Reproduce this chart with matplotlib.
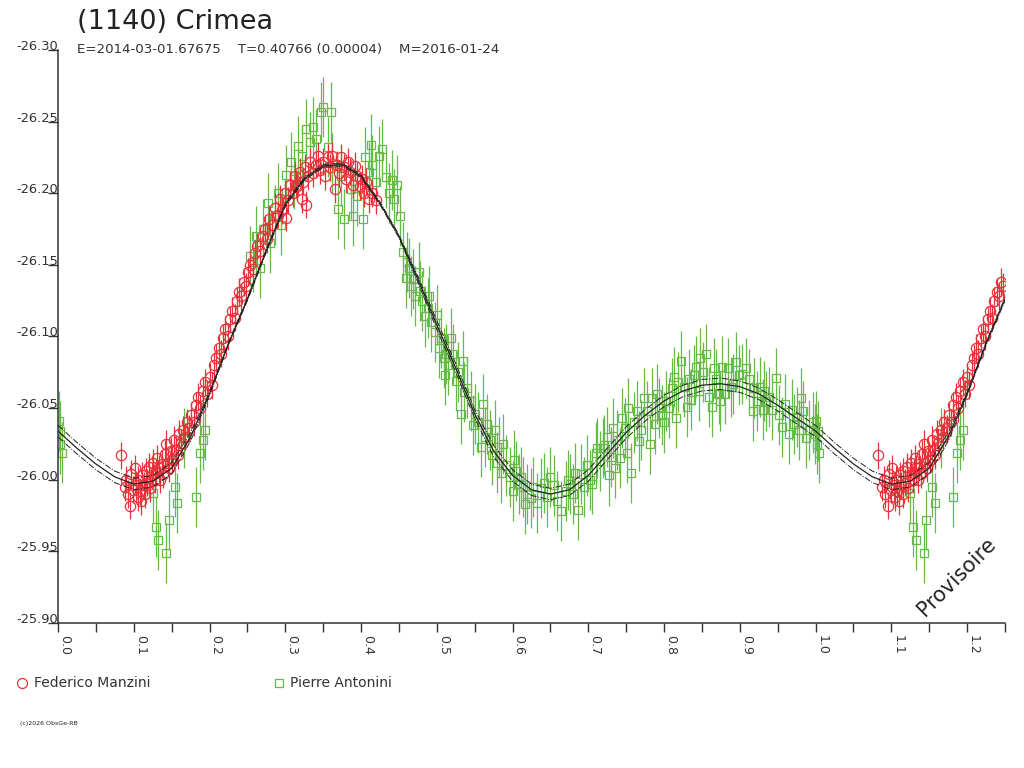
import numpy as np
import matplotlib
matplotlib.use("Agg")
import matplotlib.pyplot as plt
from matplotlib.lines import Line2D

# ___ fitted light curve, phase 0 -> 1
fit_phase = [0.000, 0.025, 0.050, 0.075, 0.100, 0.125, 0.150, 0.175, 0.200, 0.225,
             0.250, 0.275, 0.300, 0.325, 0.350, 0.375, 0.400, 0.425, 0.450, 0.475,
             0.500, 0.525, 0.550, 0.575, 0.600, 0.625, 0.650, 0.675, 0.700, 0.725,
             0.750, 0.775, 0.800, 0.825, 0.850, 0.875, 0.900, 0.925, 0.950, 0.975,
             1.000]
fit_mag = [-26.034, -26.022, -26.011, -26.002, -25.997, -25.999, -26.008, -26.030, -26.060, -26.095,
           -26.126, -26.160, -26.192, -26.210, -26.219, -26.220, -26.212, -26.193, -26.170, -26.140,
           -26.108, -26.078, -26.046, -26.020, -26.003, -25.993, -25.990, -25.993, -26.003, -26.018,
           -26.033, -26.045, -26.055, -26.062, -26.066, -26.067, -26.065, -26.060, -26.052, -26.043,
           -26.034]
# half width of the dash-dot envelope
fit_spread = [0.004, 0.004, 0.004, 0.004, 0.004, 0.004, 0.004, 0.003, 0.001, 0.001,
              0.001, 0.001, 0.001, 0.001, 0.001, 0.001, 0.001, 0.001, 0.001, 0.002,
              0.003, 0.003, 0.003, 0.004, 0.004, 0.004, 0.004, 0.004, 0.004, 0.004,
              0.004, 0.004, 0.004, 0.004, 0.004, 0.004, 0.004, 0.004, 0.004, 0.004,
              0.004]

# ___ Federico Manzini
manzini_phase = [0.083, 0.088, 0.090, 0.092, 0.095, 0.097, 0.099, 0.101, 0.103, 0.105,
                 0.106, 0.108, 0.110, 0.111, 0.113, 0.115, 0.116, 0.118, 0.120, 0.122,
                 0.124, 0.126, 0.128, 0.130, 0.131, 0.133, 0.135, 0.137, 0.139, 0.141,
                 0.143, 0.145, 0.147, 0.149, 0.151, 0.153, 0.156, 0.158, 0.160, 0.162,
                 0.165, 0.168, 0.170, 0.173, 0.176, 0.179, 0.182, 0.185, 0.188, 0.191,
                 0.194, 0.197, 0.200, 0.203, 0.206, 0.209, 0.212, 0.215, 0.218, 0.221,
                 0.224, 0.227, 0.230, 0.233, 0.236, 0.239, 0.242, 0.245, 0.248, 0.251,
                 0.254, 0.257, 0.260, 0.263, 0.266, 0.270, 0.273, 0.276, 0.279, 0.283,
                 0.286, 0.290, 0.293, 0.296, 0.300, 0.301, 0.303, 0.306, 0.310, 0.313,
                 0.314, 0.316, 0.320, 0.322, 0.323, 0.326, 0.328, 0.330, 0.333, 0.336,
                 0.340, 0.343, 0.346, 0.350, 0.353, 0.356, 0.359, 0.362, 0.365, 0.368,
                 0.371, 0.374, 0.377, 0.380, 0.383, 0.386, 0.389, 0.392, 0.395, 0.398,
                 0.401, 0.404, 0.407, 0.410, 0.415, 0.420]
manzini_mag = [-26.017, -25.995, -26.000, -25.990, -25.982, -26.004, -25.993, -26.008, -25.996, -25.988,
               -26.000, -25.992, -25.985, -26.003, -25.996, -25.990, -26.006, -25.998, -26.009, -25.994,
               -26.003, -26.012, -26.000, -26.005, -26.015, -26.008, -26.000, -26.011, -26.004, -26.018,
               -26.025, -26.012, -26.008, -26.020, -26.014, -26.028, -26.021, -26.017, -26.032, -26.026,
               -26.035, -26.030, -26.040, -26.036, -26.045, -26.040, -26.052, -26.058, -26.050, -26.062,
               -26.068, -26.060, -26.072, -26.066, -26.080, -26.085, -26.092, -26.088, -26.099, -26.105,
               -26.100, -26.112, -26.118, -26.113, -26.125, -26.131, -26.128, -26.138, -26.135, -26.145,
               -26.150, -26.147, -26.158, -26.163, -26.160, -26.170, -26.175, -26.168, -26.182, -26.178,
               -26.190, -26.185, -26.196, -26.188, -26.200, -26.183, -26.195, -26.206, -26.200, -26.212,
               -26.206, -26.205, -26.215, -26.196, -26.208, -26.218, -26.192, -26.212, -26.222, -26.214,
               -26.220, -26.226, -26.216, -26.222, -26.212, -26.225, -26.218, -26.226, -26.203, -26.220,
               -26.214, -26.225, -26.218, -26.210, -26.222, -26.215, -26.206, -26.219, -26.212, -26.205,
               -26.210, -26.200, -26.208, -26.196, -26.200, -26.195]
manzini_err = 0.0095

# ___ Pierre Antonini
antonini_phase = [0.001, 0.002, 0.003, 0.005, 0.125, 0.129, 0.132, 0.143, 0.146, 0.154,
                  0.157, 0.166, 0.182, 0.187, 0.191, 0.194,
                  0.253, 0.258, 0.262, 0.266, 0.270,
                  0.277, 0.280, 0.286, 0.290, 0.295, 0.301, 0.308, 0.312, 0.317, 0.322,
                  0.328, 0.333, 0.336, 0.341, 0.347, 0.350, 0.357, 0.360, 0.362, 0.370,
                  0.374, 0.378, 0.387, 0.389, 0.395, 0.402, 0.405, 0.410, 0.413, 0.415,
                  0.420, 0.424, 0.428, 0.433, 0.437, 0.441, 0.444, 0.447, 0.452, 0.455,
                  0.459, 0.461, 0.463, 0.466, 0.468, 0.471, 0.476, 0.478, 0.481, 0.485,
                  0.488, 0.490, 0.493, 0.497, 0.500, 0.503, 0.506, 0.509, 0.511, 0.512,
                  0.515, 0.519, 0.522, 0.525, 0.528, 0.532, 0.534, 0.536, 0.540, 0.545,
                  0.548, 0.551, 0.555, 0.559, 0.561, 0.563, 0.566, 0.570, 0.573, 0.577,
                  0.580, 0.582, 0.585, 0.588, 0.592, 0.597, 0.600, 0.602, 0.605, 0.608,
                  0.611, 0.614, 0.617, 0.619, 0.624, 0.627, 0.632, 0.638, 0.642, 0.646,
                  0.650, 0.655, 0.658, 0.664, 0.670, 0.673, 0.676, 0.680, 0.683, 0.687,
                  0.690, 0.694, 0.698, 0.702, 0.705, 0.710, 0.712, 0.715, 0.719, 0.721,
                  0.724, 0.727, 0.730, 0.733, 0.735, 0.738, 0.742, 0.744, 0.748, 0.751,
                  0.753, 0.756, 0.760, 0.764, 0.767, 0.770, 0.774, 0.778, 0.782, 0.784,
                  0.788, 0.790, 0.793, 0.797, 0.800, 0.802, 0.806, 0.810, 0.813, 0.816,
                  0.818, 0.822, 0.826, 0.830, 0.833, 0.835, 0.839, 0.842, 0.846, 0.848,
                  0.851, 0.855, 0.859, 0.863, 0.866, 0.869, 0.872, 0.874, 0.877, 0.880,
                  0.885, 0.888, 0.891, 0.895, 0.899, 0.903, 0.908, 0.912, 0.917, 0.919,
                  0.922, 0.926, 0.930, 0.932, 0.935, 0.939, 0.943, 0.948, 0.952, 0.956,
                  0.960, 0.965, 0.969, 0.971, 0.975, 0.978, 0.981, 0.984, 0.987, 0.991,
                  0.996, 0.999]
antonini_mag = [-26.041, -26.025, -26.034, -26.019, -25.991, -25.967, -25.958, -25.949, -25.972, -25.995,
                -25.984, -26.029, -25.988, -26.019, -26.028, -26.035,
                -26.156, -26.152, -26.170, -26.148, -26.175,
                -26.193, -26.165, -26.185, -26.200, -26.178, -26.213, -26.222, -26.210, -26.233, -26.226,
                -26.245, -26.236, -26.246, -26.238, -26.257, -26.260, -26.232, -26.257, -26.221, -26.189,
                -26.212, -26.182, -26.203, -26.184, -26.198, -26.182, -26.225, -26.215, -26.234, -26.220,
                -26.208, -26.226, -26.231, -26.211, -26.200, -26.209, -26.196, -26.206, -26.184, -26.159,
                -26.141, -26.152, -26.148, -26.135, -26.140, -26.128, -26.145, -26.132, -26.125, -26.114,
                -26.120, -26.128, -26.110, -26.103, -26.115, -26.092, -26.099, -26.085, -26.073, -26.088,
                -26.080, -26.099, -26.088, -26.069, -26.075, -26.046, -26.083, -26.061, -26.064, -26.055,
                -26.038, -26.046, -26.040, -26.023, -26.053, -26.030, -26.039, -26.028, -26.017, -26.035,
                -26.012, -26.023, -26.005, -26.025, -26.010, -26.002, -25.992, -26.014, -26.006, -25.997,
                -26.002, -25.995, -25.983, -25.990, -25.987, -25.995, -25.984, -25.994, -25.998, -25.988,
                -26.002, -25.996, -25.985, -25.978, -25.992, -26.000, -25.997, -25.990, -26.005, -25.979,
                -26.004, -25.995, -26.010, -26.000, -25.997, -26.019, -26.022, -26.013, -26.022, -26.024,
                -26.030, -26.003, -26.016, -26.036, -26.008, -26.028, -26.015, -26.043, -26.036, -26.019,
                -26.050, -26.005, -26.040, -26.048, -26.027, -26.035, -26.057, -26.048, -26.025, -26.057,
                -26.039, -26.060, -26.050, -26.045, -26.040, -26.055, -26.050, -26.064, -26.072, -26.043,
                -26.068, -26.083, -26.065, -26.051, -26.070, -26.056, -26.073, -26.079, -26.062, -26.085,
                -26.075, -26.088, -26.058, -26.051, -26.078, -26.070, -26.060, -26.055, -26.079, -26.060,
                -26.078, -26.065, -26.067, -26.082, -26.073, -26.074, -26.078, -26.070, -26.048, -26.064,
                -26.055, -26.065, -26.049, -26.062, -26.055, -26.058, -26.049, -26.071, -26.045, -26.037,
                -26.053, -26.032, -26.049, -26.039, -26.044, -26.035, -26.057, -26.048, -26.029, -26.035,
                -26.040, -26.032]
antonini_err = 0.021

red = "#e8323a"
green = "#66bb48"
dark = "#333333"
wrap_to = 0.25   # phases below this are shown a second time after 1.0


def wrapped(phase, mag):
    phase = np.asarray(phase)
    mag = np.asarray(mag)
    keep = phase < wrap_to
    return np.concatenate([phase, phase[keep] + 1.0]), np.concatenate([mag, mag[keep]])


plt.rcParams['font.family'] = ['DejaVu Sans']

fig = plt.figure(figsize=(10.24, 7.68), dpi=100)
ax = fig.add_axes([58/1024, 1-623/768, 947/1024, 573/768])

# data
px, pm = wrapped(antonini_phase, antonini_mag)
ax.errorbar(px, pm, yerr=antonini_err, fmt='s', ms=5.4, mfc='none', mec=green, mew=0.9,
            ecolor=green, elinewidth=0.9, capsize=0, zorder=2)
px, pm = wrapped(manzini_phase, manzini_mag)
ax.errorbar(px, pm, yerr=manzini_err, fmt='o', ms=7.4, mfc='none', mec=red, mew=0.9,
            ecolor=red, elinewidth=0.9, capsize=0, zorder=3)

# fit + envelope
fp = np.array(fit_phase)
fm = np.array(fit_mag)
fs = np.array(fit_spread)
sel = fp <= wrap_to + 1e-9
cp = np.concatenate([fp, fp[sel][1:] + 1.0])
cm = np.concatenate([fm, fm[sel][1:]])
cs = np.concatenate([fs, fs[sel][1:]])
ax.plot(cp, cm, color="#222222", lw=0.9, zorder=5)
ax.plot(cp, cm - cs, color="#222222", lw=0.7, ls='-.', zorder=5)
ax.plot(cp, cm + cs, color="#222222", lw=0.7, ls='-.', zorder=5)

ax.set_xlim(0, 1.25)
ax.set_ylim(-25.90, -26.30)

for s in ("top", "right"):
    ax.spines[s].set_visible(False)
for s in ("left", "bottom"):
    ax.spines[s].set_color(dark)
    ax.spines[s].set_linewidth(1.1)

yt = np.round(np.arange(-26.30, -25.899, 0.05), 2)
ax.set_yticks(yt)
ax.set_yticklabels(["{:.2f}".format(v) for v in yt])
ax.tick_params(axis='y', direction='out', length=7.2, width=1, color=dark,
               pad=-7.2, labelsize=9.4, labelcolor=dark)
plt.setp(ax.get_yticklabels(), va='baseline')

xt = np.round(np.arange(0, 1.2501, 0.05), 2)
ax.set_xticks(xt)
ax.set_xticklabels(["{:.1f}".format(v) if round(v*20) % 2 == 0 else "" for v in xt])
ax.tick_params(axis='x', direction='out', length=6.5, width=1, color=dark,
               pad=2, labelsize=9, labelcolor=dark, labelrotation=-90)
plt.setp(ax.get_xticklabels(), ha='left', va='top')

# header
fig.text(77/1024, 1-29/768, "(1140) Crimea", fontsize=19.5, color="#222222", va='baseline')
fig.text(77/1024, 1-53/768,
         "E=2014-03-01.67675    T=0.40766 (0.00004)    M=2016-01-24",
         fontsize=9.6, color=dark, va='baseline')

ax.text(957/1024, 1-577/768, "Provisoire", transform=fig.transFigure, rotation=45,
        fontsize=15, color="#222222", ha='center', va='center')

# legend
fig.add_artist(Line2D([22/1024], [1-683/768], transform=fig.transFigure, marker='o', ms=7.2,
                      mfc='none', mec=red, mew=0.9, ls='none'))
fig.text(34/1024, 1-683/768, "Federico Manzini", fontsize=10, color=dark, va='center')
fig.add_artist(Line2D([279/1024], [1-683/768], transform=fig.transFigure, marker='s', ms=5.2,
                      mfc='none', mec=green, mew=0.9, ls='none'))
fig.text(290/1024, 1-683/768, "Pierre Antonini", fontsize=10, color=dark, va='center')

fig.text(20/1024, 1-724/768, "(c)2026 ObsGe-RB", fontsize=4.5, color="#222222", va='center')

fig.savefig("out.png", dpi=100)
